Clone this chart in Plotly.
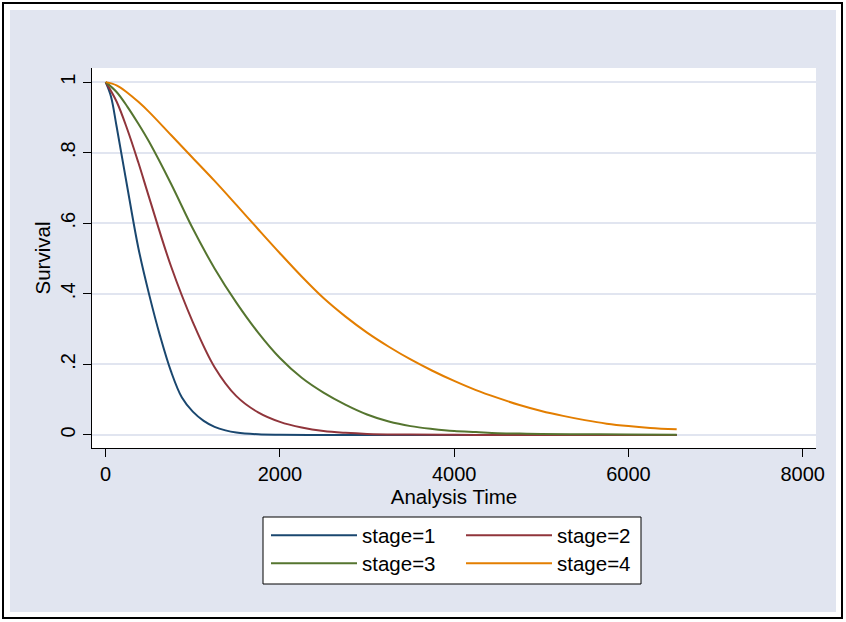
import plotly.graph_objects as go

# Survival estimates by stage (analysis time, survival probability)
stage1_t = [0, 60, 125, 250, 375, 500, 625, 750, 875, 1000, 1125, 1250, 1375, 1500, 1750, 2000,
            2500, 3000, 4000, 5000, 6554]
stage1_s = [1, 0.96, 0.875, 0.7, 0.53, 0.397, 0.28, 0.18, 0.106, 0.066, 0.04, 0.023, 0.013, 0.007,
            0.002, 0.0006, 0, 0, 0, 0, 0]

stage2_t = [0, 125, 250, 375, 500, 750, 1000, 1250, 1500, 1750, 2000, 2250, 2500, 2750, 3000,
            3500, 4000, 4500, 5000, 6554]
stage2_s = [1, 0.945, 0.865, 0.772, 0.672, 0.478, 0.32, 0.192, 0.11, 0.064, 0.037, 0.021, 0.011,
            0.006, 0.003, 0.001, 0.0003, 0, 0, 0]

stage3_t = [0, 125, 250, 375, 500, 750, 1000, 1250, 1500, 1750, 2000, 2250, 2500, 2750, 3000,
            3250, 3500, 3750, 4000, 4250, 4500, 4750, 5000, 5500, 6000, 6554]
stage3_s = [1, 0.972, 0.93, 0.882, 0.83, 0.712, 0.585, 0.472, 0.375, 0.29, 0.218, 0.162, 0.12,
            0.086, 0.058, 0.038, 0.025, 0.017, 0.011, 0.008, 0.005, 0.004, 0.003, 0.002, 0.001,
            0.0005]

stage4_t = [0, 125, 250, 375, 500, 750, 1000, 1250, 1500, 1750, 2000, 2250, 2500, 2750, 3000,
            3250, 3500, 3750, 4000, 4250, 4500, 4750, 5000, 5250, 5500, 5750, 6000, 6250, 6554]
stage4_s = [1, 0.991, 0.97, 0.944, 0.915, 0.85, 0.785, 0.72, 0.652, 0.583, 0.515, 0.449, 0.388,
            0.336, 0.29, 0.25, 0.214, 0.182, 0.153, 0.127, 0.105, 0.085, 0.068, 0.054, 0.042,
            0.032, 0.025, 0.02, 0.016]

series_names = ["stage=1", "stage=2", "stage=3", "stage=4"]
series_colors = ["#1A476F", "#90353B", "#55752F", "#E37E00"]
series_legends = ["legend", "legend", "legend2", "legend2"]

x_ticks = [0, 2000, 4000, 6000, 8000]
y_ticks = [0, 0.2, 0.4, 0.6, 0.8, 1]
y_ticktext = ["0", ".2", ".4", ".6", ".8", "1"]

BG = "#E1E5F0"
FONT = "Arial, Liberation Sans, sans-serif"

# Plot-area geometry in pixels (used to place frame / legend box in paper units)
W, H = 846, 622
L, R, T, B = 92, 30, 68, 174
PW, PH = W - L - R, H - T - B


def px_x(x):
    return (x - L) / PW


def px_y(y):
    return (H - B - y) / PH


fig = go.Figure()
for t, s, name, color, lg in zip(
    [stage1_t, stage2_t, stage3_t, stage4_t],
    [stage1_s, stage2_s, stage3_s, stage4_s],
    series_names, series_colors, series_legends,
):
    fig.add_trace(go.Scatter(
        x=t, y=s, mode="lines", name=name, legend=lg,
        line=dict(color=color, width=2, shape="spline", smoothing=1.0),
    ))

legend_common = dict(
    orientation="h", xanchor="left", yanchor="middle",
    bgcolor="rgba(0,0,0,0)", borderwidth=0,
    font=dict(family=FONT, size=20.5, color="black"),
    itemwidth=86, entrywidth=94, entrywidthmode="pixels",
    tracegroupgap=0, itemclick=False,
)

fig.update_layout(
    width=W, height=H,
    margin=dict(l=L, r=R, t=T, b=B),
    paper_bgcolor=BG, plot_bgcolor="white",
    font=dict(family=FONT, size=20, color="black"),
    showlegend=True,
    legend=dict(x=px_x(266), y=px_y(535.5), **legend_common),
    legend2=dict(x=px_x(266), y=px_y(563.5), **legend_common),
    xaxis=dict(
        range=[-157, 8153], tickvals=x_ticks, ticks="outside", ticklen=8,
        tickcolor="black", tickwidth=1, showline=True, linecolor="black", linewidth=1,
        showgrid=False, zeroline=False,
        tickfont=dict(family=FONT, size=20, color="black"),
        title=dict(text="Analysis Time", font=dict(family=FONT, size=20.5, color="black"),
                   standoff=0),
    ),
    yaxis=dict(
        range=[-0.037, 1.04], tickvals=y_ticks, ticktext=y_ticktext, tickangle=-90,
        ticks="outside", ticklen=8, tickcolor="black", tickwidth=1,
        showline=True, linecolor="black", linewidth=1,
        showgrid=True, gridcolor=BG, gridwidth=2, zeroline=False,
        tickfont=dict(family=FONT, size=20, color="black"),
        title=dict(text="Survival", font=dict(family=FONT, size=20.5, color="black"),
                   standoff=0),
    ),
    shapes=[
        # legend box
        dict(type="rect", xref="paper", yref="paper", layer="below",
             x0=px_x(263), x1=px_x(641), y0=px_y(584), y1=px_y(517),
             fillcolor="white", line=dict(color="black", width=1)),
        # white outer margin band
        dict(type="rect", xref="paper", yref="paper", layer="above",
             x0=px_x(0), x1=px_x(W), y0=px_y(H), y1=px_y(0),
             fillcolor="rgba(0,0,0,0)", line=dict(color="white", width=20)),
        # black outer frame
        dict(type="rect", xref="paper", yref="paper", layer="above",
             x0=px_x(3), x1=px_x(842), y0=px_y(618), y1=px_y(3),
             fillcolor="rgba(0,0,0,0)", line=dict(color="black", width=2)),
    ],
)

fig.write_html("out.html")
